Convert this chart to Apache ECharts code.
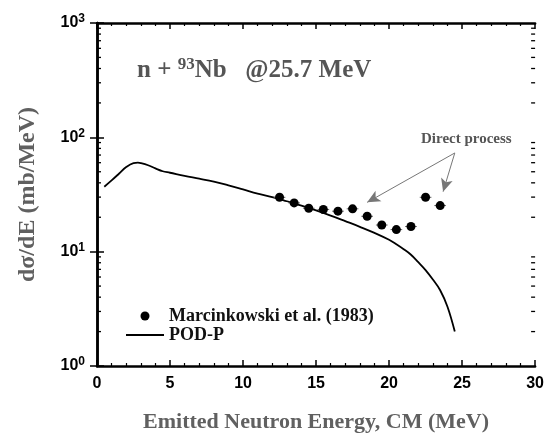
<!DOCTYPE html>
<html>
<head>
<meta charset="utf-8">
<script src="https://cdn.jsdelivr.net/npm/echarts@6/dist/echarts.min.js"></script>
<style>
html, body { margin: 0; padding: 0; background: #fff; }
#main { width: 547px; height: 438px; }
</style>
</head>
<body>
<div id="main"></div>
<script>
// POD-P calculation (solid curve)
var podX = [0.5, 1.0, 1.5, 2.0, 2.5, 2.8, 3.0, 3.5, 4.0, 4.5, 5.0, 6.0, 7.0, 8.0, 9.0, 10.0,
            11.0, 12.0, 13.0, 14.0, 15.0, 16.0, 17.0, 18.0, 19.0, 20.0, 20.5, 21.0, 21.5,
            22.0, 22.5, 23.0, 23.5, 24.0, 24.5];
var podY = [37, 42, 48, 55, 59.5, 60, 59.5, 57, 53.5, 50.5, 49, 46, 43.5, 41, 38, 35,
            32.2, 30, 27.6, 25.3, 23.0, 20.7, 18.5, 16.5, 14.6, 12.7, 11.6, 10.5, 9.4,
            8.1, 6.9, 5.7, 4.6, 3.3, 2.0];

// Marcinkowski et al. (1983)
var expX = [12.5, 13.5, 14.5, 15.5, 16.5, 17.5, 18.5, 19.5, 20.5, 21.5, 22.5, 23.5];
var expY = [29.9, 26.7, 24.0, 23.4, 22.6, 23.7, 20.4, 17.1, 15.6, 16.6, 29.9, 25.3];
var expErrX = 0.4;

// log axis minor ticks
var yMinor = [2, 3, 4, 5, 6, 7, 8, 9, 20, 30, 40, 50, 60, 70, 80, 90, 200, 300, 400, 500, 600, 700, 800, 900];

// "Direct process" arrows (data coords)
var arrowStart = [24.5, 73];
var arrowEnds = [[18.5, 27], [23.7, 33.5]];

var serif = 'Liberation Serif';
var sans = 'Liberation Sans';

var podData = podX.map(function (x, i) { return [x, podY[i]]; });
var expData = expX.map(function (x, i) { return [x, expY[i]]; });
var minorData = yMinor.map(function (v) { return [0, v]; });
var arrowLines = arrowEnds.map(function (e) {
    return [{ coord: arrowStart, symbol: 'none' }, { coord: e, symbol: 'arrow' }];
});

var myChart = echarts.init(document.getElementById('main'));

var axisLineStyle = { color: '#000', width: 2.5 };
var tickStyle = { color: '#000', width: 1.5 };

var option = {
    backgroundColor: '#fff',
    animation: false,
    title: {
        text: '{a|n + }{s|93}{a|Nb   @25.7 MeV}',
        left: 132,
        top: 51,
        textStyle: {
            rich: {
                a: { fontFamily: serif, fontWeight: 'bold', fontSize: 25, color: '#555' },
                s: { fontFamily: serif, fontWeight: 'bold', fontSize: 17, color: '#555', verticalAlign: 'bottom', padding: [0, 0, 13, 0] }
            }
        }
    },
    legend: {
        orient: 'vertical',
        left: 120,
        top: 302,
        itemWidth: 38,
        itemHeight: 9,
        itemGap: 1,
        textStyle: { fontFamily: serif, fontWeight: 'bold', fontSize: 18, color: '#111' },
        data: [
            { name: 'Marcinkowski et al. (1983)', icon: 'circle' },
            { name: 'POD-P', itemStyle: { opacity: 0 } }
        ]
    },
    graphic: [{
        type: 'text',
        left: 421,
        top: 132,
        style: { text: 'Direct process', fontFamily: serif, fontWeight: 'bold', fontSize: 15, fill: '#555' }
    }],
    grid: { left: 97, right: 8, top: 23, bottom: 71 },
    xAxis: [{
        type: 'value',
        min: 0,
        max: 30,
        interval: 5,
        position: 'bottom',
        axisLine: { lineStyle: axisLineStyle },
        axisTick: { inside: true, length: 6, lineStyle: tickStyle },
        minorTick: { show: true, splitNumber: 5, length: 3, lineStyle: { color: '#000', width: 1.2 } },
        splitLine: { show: false },
        axisLabel: { margin: 10, fontFamily: sans, fontWeight: 'bold', fontSize: 16, color: '#000' },
        name: 'Emitted Neutron Energy, CM (MeV)',
        nameLocation: 'middle',
        nameGap: 45,
        nameTextStyle: { fontFamily: serif, fontWeight: 'bold', fontSize: 22, color: '#606060' }
    }, {
        type: 'value',
        min: 0,
        max: 30,
        interval: 5,
        position: 'top',
        axisLine: { lineStyle: axisLineStyle },
        axisTick: { inside: true, length: 6, lineStyle: tickStyle },
        minorTick: { show: true, splitNumber: 5, length: 3, lineStyle: { color: '#000', width: 1.2 } },
        splitLine: { show: false },
        axisLabel: { show: false }
    }],
    yAxis: [{
        type: 'log',
        logBase: 10,
        min: 1,
        max: 1000,
        position: 'left',
        axisLine: { lineStyle: axisLineStyle },
        axisTick: { inside: true, length: 7, lineStyle: tickStyle },
        splitLine: { show: false },
        axisLabel: {
            margin: 12,
            formatter: function (v) {
                return '{b|10}{s|' + Math.round(Math.log10(v)) + '}';
            },
            rich: {
                b: { fontFamily: sans, fontWeight: 'bold', fontSize: 16, color: '#000' },
                s: { fontFamily: sans, fontWeight: 'bold', fontSize: 12, color: '#000', verticalAlign: 'bottom', padding: [0, 0, 8, 0] }
            }
        },
        name: 'dσ/dE (mb/MeV)',
        nameLocation: 'middle',
        nameGap: 57,
        nameRotate: 90,
        nameTextStyle: { fontFamily: serif, fontWeight: 'bold', fontSize: 24, color: '#606060' }
    }, {
        type: 'log',
        logBase: 10,
        min: 1,
        max: 1000,
        position: 'right',
        axisLine: { lineStyle: axisLineStyle },
        axisTick: { inside: true, length: 7, lineStyle: tickStyle },
        splitLine: { show: false },
        axisLabel: { show: false }
    }],
    series: [{
        name: 'POD-P',
        type: 'line',
        data: podData,
        smooth: 0.4,
        showSymbol: false,
        symbol: 'none',
        lineStyle: { color: '#000', width: 1.8 },
        itemStyle: { color: '#000' },
        z: 3
    }, {
        name: 'Marcinkowski et al. (1983)',
        type: 'scatter',
        data: expData,
        symbol: 'circle',
        symbolSize: 9,
        itemStyle: { color: '#000', opacity: 1 },
        z: 5,
        markLine: {
            silent: true,
            symbolSize: [9, 13],
            lineStyle: { color: '#777', width: 1, type: 'solid', opacity: 1 },
            itemStyle: { color: '#222' },
            label: { show: false },
            emphasis: { disabled: true },
            data: arrowLines
        }
    }, {
        name: 'errors',
        type: 'custom',
        silent: true,
        data: expData,
        renderItem: function (params, api) {
            var a = api.coord([api.value(0) - expErrX, api.value(1)]);
            var b = api.coord([api.value(0) + expErrX, api.value(1)]);
            return {
                type: 'line',
                shape: { x1: a[0], y1: a[1], x2: b[0], y2: b[1] },
                style: { stroke: '#666', lineWidth: 1 }
            };
        },
        z: 4
    }, {
        name: 'yminor',
        type: 'custom',
        silent: true,
        data: minorData,
        renderItem: function (params, api) {
            var l = api.coord([0, api.value(1)]);
            var r = api.coord([30, api.value(1)]);
            return {
                type: 'group',
                children: [{
                    type: 'line',
                    shape: { x1: l[0], y1: l[1], x2: l[0] + 4, y2: l[1] },
                    style: { stroke: '#000', lineWidth: 1.3 }
                }, {
                    type: 'line',
                    shape: { x1: r[0], y1: r[1], x2: r[0] - 4, y2: r[1] },
                    style: { stroke: '#000', lineWidth: 1.3 }
                }]
            };
        }
    }]
};

myChart.setOption(option);
</script>
</body>
</html>
